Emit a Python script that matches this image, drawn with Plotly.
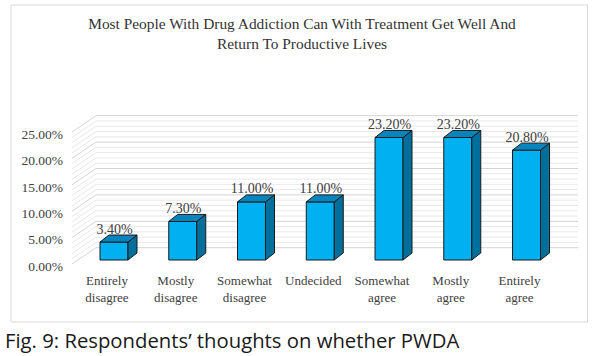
import plotly.graph_objects as go

# ---- data -------------------------------------------------------------
categories = ["Entirely<br>disagree", "Mostly<br>disagree", "Somewhat<br>disagree",
              "Undecided", "Somewhat<br>agree", "Mostly<br>agree", "Entirely<br>agree"]
values = [3.4, 7.3, 11.0, 11.0, 23.2, 23.2, 20.8]          # percent
value_labels = ["3.40%", "7.30%", "11.00%", "11.00%", "23.20%", "23.20%", "20.80%"]
tick_values = [0, 5, 10, 15, 20, 25]
tick_labels = ["0.00%", "5.00%", "10.00%", "15.00%", "20.00%", "25.00%"]
minor_values = list(range(0, 26))

title_text = ("Most People With Drug Addiction Can With Treatment Get Well And<br>"
              "Return To Productive Lives")
caption_text = "Fig. 9: Respondents\u2019 thoughts on whether PWDA"

# ---- 3-D look (axis units: 1 category step on x, 1 % on y) -------------
BAR_W = 0.407          # width of the front face
BAR_DX = 0.131         # depth of a bar, horizontal
BAR_DY = 1.33          # depth of a bar, vertical
WALL_DY = 2.33         # back wall lift relative to the bar fronts
WALL_DEPTH_DY = 3.09   # vertical run of the side wall
WALL_FRONT_X = -0.611
WALL_BACK_X = -0.262
WALL_END_X = 6.749
LABEL_LIFT = 2.27

FRONT = "#00B0F0"
SIDE = "#006F9C"
TOP = "#0585C0"
EDGE = "#1a1a1a"
SERIF = "Liberation Serif, Times New Roman, serif"

fig = go.Figure()


def wall_lines(levels):
    xs, ys = [], []
    for v in levels:
        yb = v + WALL_DY
        xs += [WALL_FRONT_X, WALL_BACK_X, WALL_END_X, None]
        ys += [yb - WALL_DEPTH_DY, yb, yb, None]
    return xs, ys


# minor and major gridlines on the side and back walls
mx, my = wall_lines([v for v in minor_values if v not in tick_values])
fig.add_trace(go.Scatter(x=mx, y=my, mode="lines", line=dict(color="#e8e8e8", width=1),
                         hoverinfo="skip", showlegend=False))
gx, gy = wall_lines(tick_values)
fig.add_trace(go.Scatter(x=gx, y=gy, mode="lines", line=dict(color="#d4d4d4", width=1),
                         hoverinfo="skip", showlegend=False))

# bar fronts
xs = list(range(len(values)))
fig.add_trace(go.Bar(x=xs, y=values, width=BAR_W, xaxis="x2", yaxis="y2",
                     marker=dict(color=FRONT, line=dict(color=EDGE, width=1)),
                     hoverinfo="skip", showlegend=False))

# bar sides and tops
hw = BAR_W / 2
for i, v in zip(xs, values):
    fig.add_trace(go.Scatter(
        x=[i + hw, i + hw + BAR_DX, i + hw + BAR_DX, i + hw, i + hw],
        y=[0, BAR_DY, v + BAR_DY, v, 0],
        mode="lines", fill="toself", fillcolor=SIDE,
        line=dict(color=EDGE, width=1), xaxis="x2", yaxis="y2",
        hoverinfo="skip", showlegend=False))
    fig.add_trace(go.Scatter(
        x=[i - hw, i - hw + BAR_DX, i + hw + BAR_DX, i + hw, i - hw],
        y=[v, v + BAR_DY, v + BAR_DY, v, v],
        mode="lines", fill="toself", fillcolor=TOP,
        line=dict(color=EDGE, width=1), xaxis="x2", yaxis="y2",
        hoverinfo="skip", showlegend=False))

# value labels
fig.add_trace(go.Scatter(
    x=[i + 0.01 for i in xs], y=[v + LABEL_LIFT for v in values],
    mode="text", text=value_labels, textposition="middle center",
    textfont=dict(family=SERIF, size=14, color="#404040"),
    xaxis="x2", yaxis="y2", cliponaxis=False, hoverinfo="skip", showlegend=False))

x_range = [-0.698, 6.865]
y_range = [-1.894, 30.30]

fig.update_layout(
    width=596, height=356, autosize=False,
    margin=dict(l=66, r=10, t=100, b=86),
    paper_bgcolor="white", plot_bgcolor="rgba(0,0,0,0)",
    title=dict(text=title_text, x=302 / 596, xanchor="center",
               y=1 - 29 / 356, yanchor="top",
               font=dict(family=SERIF, size=15.4, color="#333333")),
    xaxis=dict(range=x_range, showgrid=False, zeroline=False, showline=False,
               tickmode="array", tickvals=xs, ticktext=categories, ticks="",
               ticklabelshift=-7, ticklabelstandoff=1,
               tickfont=dict(family=SERIF, size=13, color="#404040")),
    yaxis=dict(range=y_range, showgrid=False, zeroline=False, showline=False,
               tickmode="array", tickvals=tick_values, ticktext=tick_labels, ticks="",
               ticklabelshift=6, ticklabelstandoff=2,
               tickfont=dict(family=SERIF, size=13.5, color="#404040")),
    xaxis2=dict(range=x_range, overlaying="x", visible=False),
    yaxis2=dict(range=y_range, overlaying="y", visible=False),
    shapes=[dict(type="rect", xref="paper", yref="paper",
                 x0=(11 - 66) / 520, x1=(587.5 - 66) / 520,
                 y0=(270 - 322) / 170, y1=(270 - 5) / 170,
                 line=dict(color="#d9d9d9", width=1), layer="below")],
    annotations=[dict(text=caption_text, xref="paper", yref="paper",
                      x=(3 - 66) / 520, xanchor="left",
                      y=(270 - 340) / 170, yanchor="middle", showarrow=False,
                      font=dict(family="Open Sans, sans-serif", size=20.3, color="#1a1a1a"))],
)

fig.write_html("out.html")
